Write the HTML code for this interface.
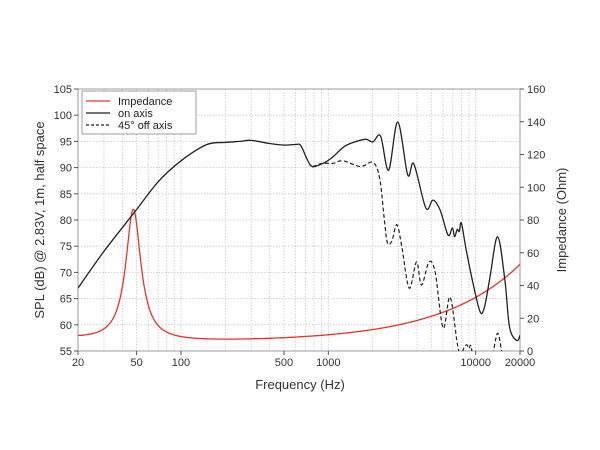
<!DOCTYPE html>
<html><head><meta charset="utf-8"><style>
html,body{margin:0;padding:0;background:#fff}
svg{display:block;font-family:"Liberation Sans",Arial,sans-serif}
</style></head><body>
<svg id="s" width="600" height="450" viewBox="0 0 600 450"></svg>
<script>
const L=78,R=520,T=89,B=351;
const X=f=>L+(R-L)*Math.log10(f/20)/3;
const Y=db=>T+(105-db)*(B-T)/50;
const YO=o=>Y(55+o*50/160);
let h='<defs><clipPath id="c"><rect x="'+L+'" y="'+T+'" width="'+(R-L)+'" height="'+(B-T)+'"/></clipPath></defs>';
for(let d=1;d<=4;d++){for(let m=1;m<10;m++){let f=m*Math.pow(10,d);if(f<20||f>20000)continue;let x=X(f);h+=`<line x1="${x}" y1="${T}" x2="${x}" y2="${B}" stroke="#c8c8c8" stroke-width="0.8" stroke-dasharray="1.5,1.5"/>`;}}
for(let v=60;v<105;v+=5){let y=Y(v);h+=`<line x1="${L}" y1="${y}" x2="${R}" y2="${y}" stroke="#c8c8c8" stroke-width="0.8" stroke-dasharray="1.5,1.5"/>`;}
h+=`<rect x="${L}" y="${T}" width="${R-L}" height="${B-T}" fill="none" stroke="#888" stroke-width="0.8"/>`;
for(let v=55;v<=105;v+=5){let y=Y(v);h+=`<line x1="${L-4}" y1="${y}" x2="${L}" y2="${y}" stroke="#555"/><text x="${L-6}" y="${y+4}" font-size="11" text-anchor="end" fill="#333">${v}</text>`;}
for(let o=0;o<=160;o+=20){let y=YO(o);h+=`<line x1="${R}" y1="${y}" x2="${R+4}" y2="${y}" stroke="#555"/><text x="${R+7}" y="${y+4}" font-size="11" fill="#333">${o}</text>`;}
[20,50,100,500,1000,10000,20000].forEach(f=>{let x=X(f);h+=`<line x1="${x}" y1="${B}" x2="${x}" y2="${B+4}" stroke="#555"/><text x="${x}" y="${B+15}" font-size="11" text-anchor="middle" fill="#333">${f}</text>`;});
h+=`<text x="300" y="389" font-size="13" text-anchor="middle" fill="#333">Frequency (Hz)</text>`;
h+=`<text transform="translate(44,220) rotate(-90)" font-size="13" text-anchor="middle" fill="#333">SPL (dB) @ 2.83V, 1m, half space</text>`;
h+=`<text transform="translate(566,220) rotate(-90)" font-size="13" text-anchor="middle" fill="#333">Impedance (Ohm)</text>`;
function cr(pts){let p=pts.map(a=>[X(a[0]),Y(a[1])]);let d='M'+p[0][0].toFixed(1)+','+p[0][1].toFixed(1);
for(let i=0;i<p.length-1;i++){let p0=p[Math.max(0,i-1)],p1=p[i],p2=p[i+1],p3=p[Math.min(p.length-1,i+2)];
let c1=[p1[0]+(p2[0]-p0[0])/6,p1[1]+(p2[1]-p0[1])/6],c2=[p2[0]-(p3[0]-p1[0])/6,p2[1]-(p3[1]-p1[1])/6];
d+=` C${c1[0].toFixed(1)},${c1[1].toFixed(1)} ${c2[0].toFixed(1)},${c2[1].toFixed(1)} ${p2[0].toFixed(1)},${p2[1].toFixed(1)}`;}return d;}
const on=[[20,67],[30,74],[50,82],[70,87.3],[100,91.3],[150,94.4],[200,94.8],[250,95],[300,95.2],[400,94.6],[500,94.3],[600,94.4],[650,94.2],[720,91.5],[780,90.2],[919,90.8],[1071,92],[1250,93.8],[1408,94.6],[1780,95.4],[2004,94.9],[2264,96],[2566,89.5],[2960,98.7],[3460,88.6],[3806,90.7],[4590,82.3],[5130,83.8],[5740,81.9],[6500,77.1],[6950,78.5],[7200,76.8],[7500,78.2],[7750,77.8],[8000,79.4],[8630,74.3],[9650,67.6],[10750,62.4],[11500,63.5],[12500,69],[14100,76.8],[15800,68.5],[17000,59.5],[19000,57],[20000,58]];
const off=[[780,90.2],[919,90.8],[1071,90.8],[1260,91.3],[1650,90.2],[2004,91],[2230,88],[2410,79.6],[2520,75.6],[2700,76],[2920,79.1],[3150,75],[3540,67],[3970,72],[4290,67.6],[4830,72],[5320,69.9],[6010,59.4],[6700,65.3],[7500,56.5],[7900,54],[8300,55.5],[8700,56.2],[9000,55.5],[9300,56],[9800,53],[12000,50],[13200,55],[14100,58.4],[15000,55],[16000,50]];
let zd='';for(let i=0;i<=800;i++){let f=20*Math.pow(1000,i/800);let fs=47.5,Q=3.5;let z=5.6+80/(1+Q*Q*Math.pow(f/fs-fs/f,2))+2*Math.pow(20/f,1.5)+0.01714*Math.pow(f,0.8);zd+=(i?'L':'M')+X(f).toFixed(1)+','+YO(z).toFixed(1);}
h+=`<g clip-path="url(#c)"><path d="${zd}" fill="none" stroke="#e8332a" stroke-width="1.3"/>`;
h+=`<path d="${cr(off)}" fill="none" stroke="#222" stroke-width="1.2" stroke-dasharray="4,2.5"/>`;
h+=`<path d="${cr(on)}" fill="none" stroke="#222" stroke-width="1.3"/></g>`;
h+=`<rect x="82" y="91" width="114" height="43" fill="#fff" stroke="#888" stroke-width="0.8"/>`;
h+=`<line x1="86" y1="101" x2="110" y2="101" stroke="#e8332a" stroke-width="1.3"/><text x="118" y="105" font-size="11" fill="#222">Impedance</text>`;
h+=`<line x1="86" y1="113" x2="110" y2="113" stroke="#222" stroke-width="1.3"/><text x="118" y="117" font-size="11" fill="#222">on axis</text>`;
h+=`<line x1="86" y1="125" x2="110" y2="125" stroke="#222" stroke-width="1.2" stroke-dasharray="3,2"/><text x="118" y="129" font-size="11" fill="#222">45° off axis</text>`;
document.getElementById('s').innerHTML=h;
</script>
</body></html>
